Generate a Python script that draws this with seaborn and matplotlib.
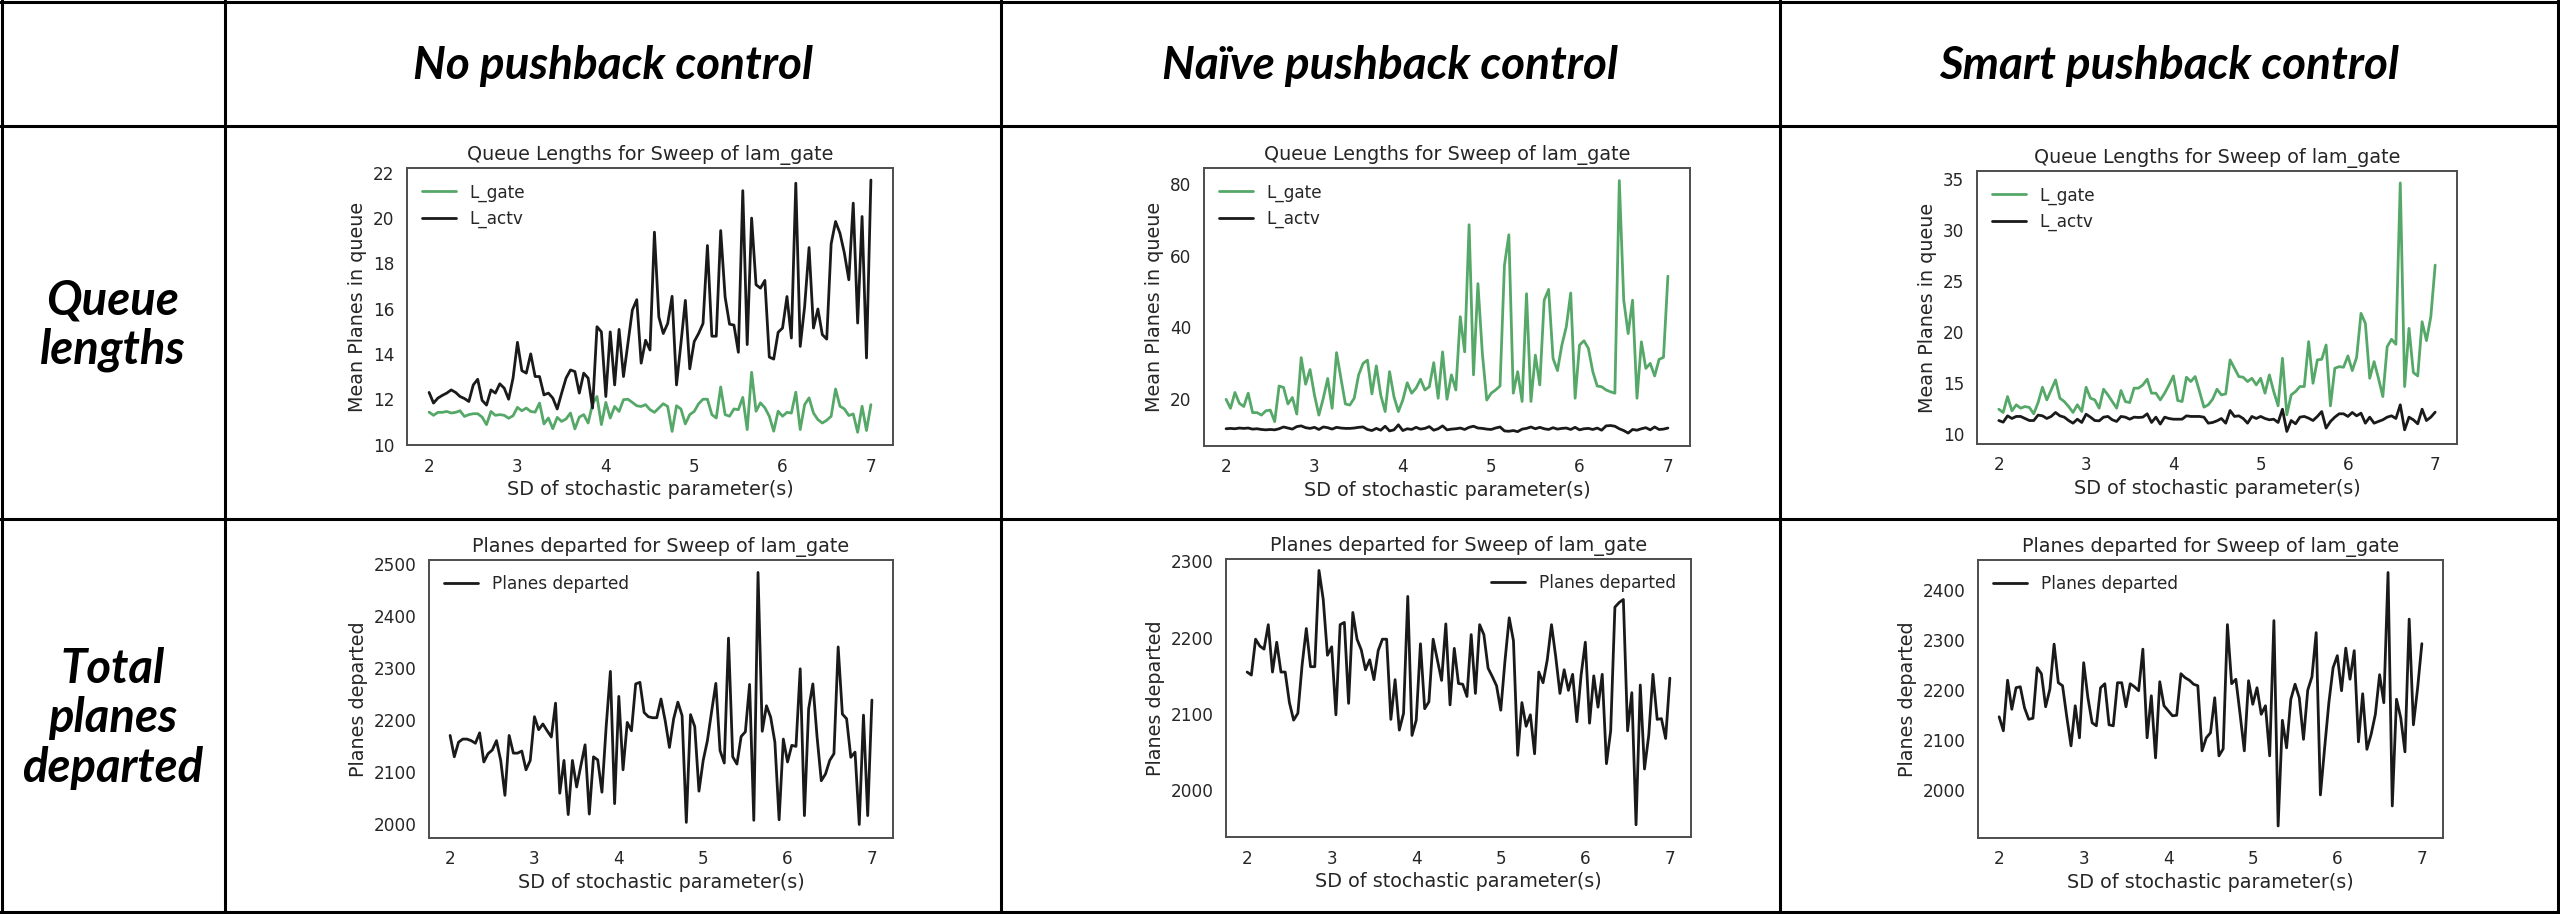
import numpy as np
import matplotlib
matplotlib.use("Agg")
import matplotlib.pyplot as plt
from matplotlib.lines import Line2D
import seaborn as sns

# sweep of the SD of the stochastic parameter(s)
sd = np.round(np.arange(2.0, 7.0001, 0.05), 2)

# --- No pushback control ---
no_l_gate = [11.43, 11.29, 11.42, 11.42, 11.46, 11.39, 11.42, 11.49, 11.24, 11.32,
             11.36, 11.36, 11.21, 10.88, 11.46, 11.29, 11.32, 11.29, 11.16, 11.27,
             11.64, 11.49, 11.61, 11.46, 11.43, 11.83, 10.91, 11.17, 10.70, 11.20,
             11.02, 11.13, 11.39, 10.69, 11.21, 11.32, 10.95, 11.80, 12.12, 10.88,
             11.86, 11.17, 11.68, 11.46, 11.98, 12.00, 11.86, 11.71, 11.68, 11.76,
             11.54, 11.42, 11.61, 11.80, 11.68, 10.58, 11.71, 11.57, 10.91, 11.32,
             11.46, 11.80, 12.00, 12.00, 11.32, 11.17, 12.54, 11.32, 11.25, 11.57,
             11.54, 12.08, 10.66, 13.19, 11.47, 11.84, 11.62, 11.25, 10.59, 11.47,
             11.25, 11.42, 11.39, 12.31, 10.66, 11.76, 12.06, 11.39, 11.10, 10.95,
             11.07, 11.25, 12.45, 11.69, 11.57, 11.28, 11.35, 10.54, 11.69, 10.62, 11.76]
no_l_actv = [12.30, 11.83, 12.05, 12.17, 12.27, 12.41, 12.30, 12.12, 12.03, 11.90,
             12.63, 12.88, 11.95, 11.74, 12.41, 12.27, 12.68, 12.49, 12.00, 12.93,
             14.51, 13.26, 13.15, 14.00, 13.00, 13.00, 12.19, 12.27, 12.05, 11.57,
             12.27, 12.93, 13.29, 13.22, 12.27, 13.15, 12.93, 11.61, 15.20, 14.97,
             12.12, 14.97, 12.63, 15.08, 13.00, 14.46, 15.93, 16.39, 13.59, 14.60,
             14.17, 19.37, 15.63, 14.90, 15.34, 16.54, 12.63, 14.46, 16.36, 13.34,
             14.54, 14.90, 15.34, 18.78, 14.78, 14.78, 19.44, 16.51, 15.31, 15.27,
             14.07, 21.20, 14.41, 19.99, 17.05, 16.90, 17.24, 13.86, 13.77, 14.95,
             15.14, 16.53, 14.70, 21.53, 14.33, 16.09, 18.69, 15.14, 15.98, 14.85,
             14.65, 18.85, 19.84, 19.32, 18.44, 17.27, 20.65, 15.36, 20.06, 13.82, 21.67]
no_departed = [2171, 2130, 2158, 2164, 2164, 2161, 2156, 2176, 2120, 2136,
               2143, 2161, 2123, 2056, 2171, 2137, 2137, 2141, 2105, 2123,
               2207, 2182, 2193, 2180, 2168, 2233, 2060, 2123, 2019, 2123,
               2072, 2113, 2153, 2020, 2130, 2124, 2062, 2188, 2294, 2040,
               2246, 2105, 2196, 2180, 2270, 2273, 2215, 2207, 2205, 2205,
               2241, 2199, 2148, 2203, 2235, 2209, 2004, 2211, 2188, 2064,
               2123, 2161, 2217, 2271, 2142, 2118, 2358, 2130, 2116, 2169,
               2178, 2269, 2008, 2484, 2179, 2228, 2206, 2158, 2009, 2164,
               2120, 2152, 2150, 2299, 2017, 2222, 2270, 2168, 2084, 2097,
               2123, 2136, 2341, 2212, 2203, 2129, 2139, 2000, 2210, 2017, 2239]

# --- Naive pushback control ---
naive_l_gate = [20.0, 17.5, 21.9, 18.9, 18.0, 21.7, 16.3, 16.3, 15.6, 16.8,
                17.0, 13.8, 23.7, 23.3, 18.7, 20.5, 15.9, 31.6, 24.2, 28.3,
                21.2, 15.6, 20.3, 25.8, 17.5, 33.0, 25.8, 18.7, 18.4, 20.3,
                26.8, 30.0, 30.9, 21.5, 29.3, 21.2, 16.6, 27.7, 20.7, 16.6,
                19.8, 24.6, 21.7, 23.1, 25.6, 22.6, 23.5, 30.2, 20.3, 33.2,
                20.0, 26.8, 22.6, 43.0, 33.2, 68.6, 26.8, 52.2, 32.8, 19.8,
                21.7, 22.6, 23.7, 57.3, 65.8, 21.7, 27.7, 19.4, 49.4, 19.4,
                32.3, 24.0, 47.6, 50.6, 31.4, 28.0, 35.1, 40.2, 49.6, 20.3,
                35.1, 36.3, 34.2, 27.7, 23.7, 23.5, 22.6, 22.1, 21.7, 80.9,
                47.6, 38.3, 47.6, 20.3, 36.0, 28.6, 30.0, 26.5, 31.1, 31.7, 54.3]
naive_l_actv = [11.8, 11.9, 11.8, 12.0, 11.9, 12.0, 11.7, 11.8, 11.6, 11.5,
                11.6, 11.5, 11.8, 12.3, 12.0, 11.7, 12.4, 12.6, 12.1, 11.9,
                12.2, 11.6, 12.3, 12.1, 11.7, 12.2, 12.0, 11.9, 11.9, 12.0,
                12.2, 12.3, 11.6, 11.3, 11.9, 11.4, 12.5, 11.2, 11.5, 12.9,
                11.3, 11.8, 11.6, 12.2, 11.7, 11.9, 12.4, 11.4, 11.8, 12.6,
                11.5, 11.7, 11.8, 12.0, 11.6, 12.2, 12.5, 12.0, 11.9, 11.7,
                11.6, 12.0, 12.3, 11.2, 11.1, 11.3, 11.0, 11.7, 11.9, 12.3,
                11.8, 12.2, 11.8, 11.6, 12.1, 11.7, 11.9, 12.0, 11.6, 12.2,
                11.5, 11.8, 11.9, 11.6, 12.0, 11.4, 12.6, 12.7, 12.5, 11.8,
                11.3, 10.6, 11.6, 11.4, 11.8, 12.1, 11.5, 12.3, 11.6, 11.7, 12.0]
naive_departed = [2155, 2151, 2198, 2189, 2185, 2217, 2155, 2194, 2155, 2155,
                  2115, 2092, 2101, 2164, 2212, 2162, 2162, 2288, 2250, 2177,
                  2188, 2099, 2217, 2220, 2114, 2233, 2198, 2184, 2158, 2171,
                  2145, 2183, 2198, 2198, 2093, 2145, 2079, 2101, 2254, 2072,
                  2092, 2192, 2107, 2116, 2198, 2171, 2144, 2218, 2112, 2186,
                  2140, 2139, 2123, 2204, 2127, 2217, 2204, 2160, 2149, 2137,
                  2105, 2170, 2226, 2196, 2046, 2115, 2084, 2099, 2048, 2155,
                  2141, 2171, 2217, 2175, 2127, 2158, 2131, 2152, 2090, 2151,
                  2194, 2088, 2150, 2109, 2152, 2035, 2078, 2240, 2246, 2250,
                  2078, 2128, 1955, 2138, 2028, 2072, 2152, 2093, 2094, 2068, 2147]

# --- Smart pushback control ---
smart_l_gate = [12.41, 12.09, 13.65, 12.25, 12.84, 12.51, 12.67, 12.58, 11.96, 13.06,
                14.56, 13.32, 14.30, 15.28, 13.49, 13.16, 12.67, 12.09, 12.84, 12.18,
                14.56, 13.49, 13.32, 12.51, 14.37, 13.81, 13.16, 12.51, 14.24, 13.16,
                13.06, 14.47, 14.47, 14.79, 15.35, 13.98, 13.98, 13.32, 13.98, 14.79,
                15.67, 13.26, 13.16, 15.54, 15.12, 15.61, 14.14, 12.61, 12.84, 13.39,
                14.37, 13.81, 13.91, 17.24, 16.42, 15.61, 15.54, 15.12, 15.44, 14.79,
                15.44, 13.98, 15.77, 14.14, 12.74, 17.40, 11.86, 13.81, 14.14, 14.63,
                14.63, 19.03, 14.95, 17.24, 17.30, 18.70, 12.74, 16.42, 16.58, 16.52,
                17.63, 16.19, 17.50, 21.80, 20.82, 15.44, 17.07, 15.44, 13.65, 18.54,
                19.26, 18.77, 34.58, 14.63, 20.33, 16.00, 15.67, 20.98, 19.13, 21.47, 26.53]
smart_l_actv = [11.30, 11.14, 11.76, 11.50, 11.70, 11.70, 11.50, 11.30, 11.30, 11.83,
                11.76, 11.50, 11.70, 12.09, 11.76, 11.63, 11.30, 11.04, 11.43, 11.11,
                11.92, 11.63, 11.30, 11.27, 11.63, 11.70, 11.37, 11.21, 11.70, 11.63,
                11.43, 11.63, 11.60, 11.63, 11.96, 11.11, 11.63, 10.95, 11.63, 11.50,
                11.43, 11.43, 11.43, 11.76, 11.70, 11.70, 11.70, 11.63, 11.04, 11.11,
                11.27, 11.50, 11.04, 12.28, 11.70, 11.76, 11.50, 11.04, 11.70, 11.50,
                11.70, 11.50, 11.37, 11.43, 11.11, 12.41, 10.23, 11.30, 10.98, 11.63,
                11.70, 11.53, 11.30, 11.70, 12.18, 10.56, 11.21, 11.63, 11.96, 11.96,
                11.70, 12.09, 11.76, 12.02, 11.04, 11.63, 11.04, 11.21, 11.37, 11.63,
                11.76, 11.50, 12.84, 10.39, 11.63, 11.37, 10.98, 12.41, 11.30, 11.63, 12.12]
smart_departed = [2147, 2119, 2220, 2162, 2205, 2207, 2165, 2142, 2144, 2245,
                  2233, 2167, 2202, 2292, 2215, 2209, 2147, 2089, 2169, 2105,
                  2255, 2185, 2135, 2129, 2205, 2213, 2131, 2129, 2215, 2215,
                  2167, 2213, 2207, 2199, 2282, 2105, 2189, 2065, 2217, 2169,
                  2159, 2149, 2150, 2233, 2225, 2220, 2212, 2209, 2079, 2105,
                  2115, 2185, 2069, 2083, 2331, 2213, 2222, 2152, 2079, 2219,
                  2172, 2205, 2152, 2169, 2069, 2339, 1929, 2140, 2085, 2182,
                  2212, 2185, 2102, 2200, 2227, 2315, 1991, 2085, 2175, 2245,
                  2269, 2199, 2284, 2222, 2279, 2097, 2193, 2082, 2112, 2152,
                  2231, 2175, 2435, 1969, 2182, 2145, 2077, 2342, 2131, 2205, 2293]

col_titles = ["No pushback control", "Naïve pushback control", "Smart pushback control"]
row_titles = ["Queue\nlengths", "Total\nplanes\ndeparted"]

sns.set_style("white")
plt.rcParams["font.family"] = ["DejaVu Sans"]
ink = "#262626"
green = "#55a868"
black = "#1a1a1a"

W, H = 2560, 914
fig = plt.figure(figsize=(W / 100, H / 100), dpi=100)


def px_axes(x0, x1, y0, y1):
    return fig.add_axes([x0 / W, 1 - y1 / H, (x1 - x0) / W, (y1 - y0) / H])


def style(ax, title, ylabel, ylim, yticks):
    ax.set_title(title, fontsize=13.8, color=ink, pad=6)
    ax.set_xlabel("SD of stochastic parameter(s)", fontsize=13.8, color=ink, labelpad=3)
    ax.set_ylabel(ylabel, fontsize=13.8, color=ink)
    ax.set_ylim(*ylim)
    ax.set_yticks(yticks)
    ax.set_xticks([2, 3, 4, 5, 6, 7])
    ax.tick_params(length=0, pad=9, labelsize=12.2, labelcolor=ink)
    for sp in ax.spines.values():
        sp.set_visible(True)
        sp.set_color("#4d4d4d")
        sp.set_linewidth(1.4)


queue_sets = [(no_l_gate, no_l_actv, (9.98, 22.2), range(10, 23, 2)),
              (naive_l_gate, naive_l_actv, (7.0, 84.4), [20, 40, 60, 80]),
              (smart_l_gate, smart_l_actv, (9.0, 35.75), range(10, 36, 5))]
dep_sets = [(no_departed, (1974, 2508), range(2000, 2501, 100), "upper left"),
            (naive_departed, (1939, 2303), range(2000, 2301, 100), "upper right"),
            (smart_departed, (1905, 2460), range(2000, 2401, 100), "upper left")]

top_boxes = [(407, 893, 168, 445), (1204, 1690, 168, 446), (1977, 2457, 171, 444)]
bot_boxes = [(429, 893, 560, 838), (1226, 1691, 559, 837), (1978, 2443, 560, 838)]

for box, (gate, actv, ylim, yt) in zip(top_boxes, queue_sets):
    ax = px_axes(*box)
    sns.lineplot(x=sd, y=gate, color=green, lw=2.0, label="L_gate", ax=ax)
    sns.lineplot(x=sd, y=actv, color=black, lw=2.0, label="L_actv", ax=ax)
    style(ax, "Queue Lengths for Sweep of lam_gate", "Mean Planes in queue", ylim, yt)
    ax.legend(loc="upper left", frameon=False, fontsize=12.2, labelcolor=ink)

for box, (dep, ylim, yt, loc) in zip(bot_boxes, dep_sets):
    ax = px_axes(*box)
    sns.lineplot(x=sd, y=dep, color=black, lw=2.0, label="Planes departed", ax=ax)
    style(ax, "Planes departed for Sweep of lam_gate", "Planes departed", ylim, yt)
    ax.legend(loc=loc, frameon=False, fontsize=12.2, labelcolor=ink)

# table grid
xs = [2, 225, 1001, 1780, 2558]
ys = [2, 126, 519, 912]
for x in xs:
    fig.add_artist(Line2D([x / W, x / W], [0, 1], color="black", lw=2.2))
for y in ys:
    fig.add_artist(Line2D([0, 1], [1 - y / H, 1 - y / H], color="black", lw=2.2))

head_font = dict(family=["Lato", "DejaVu Sans"], weight="bold", style="italic",
                 color="black", ha="center", va="center")
for i, t in enumerate(col_titles):
    cx = (xs[i + 1] + xs[i + 2]) / 2
    fig.text(cx / W, 1 - 66 / H, t, fontsize=33, **head_font)
for j, t in enumerate(row_titles):
    cy = (ys[j + 1] + ys[j + 2]) / 2
    fig.text(113 / W, 1 - (cy + 3) / H, t, fontsize=34, linespacing=1.15, **head_font)

fig.savefig("out.png", dpi=100)
